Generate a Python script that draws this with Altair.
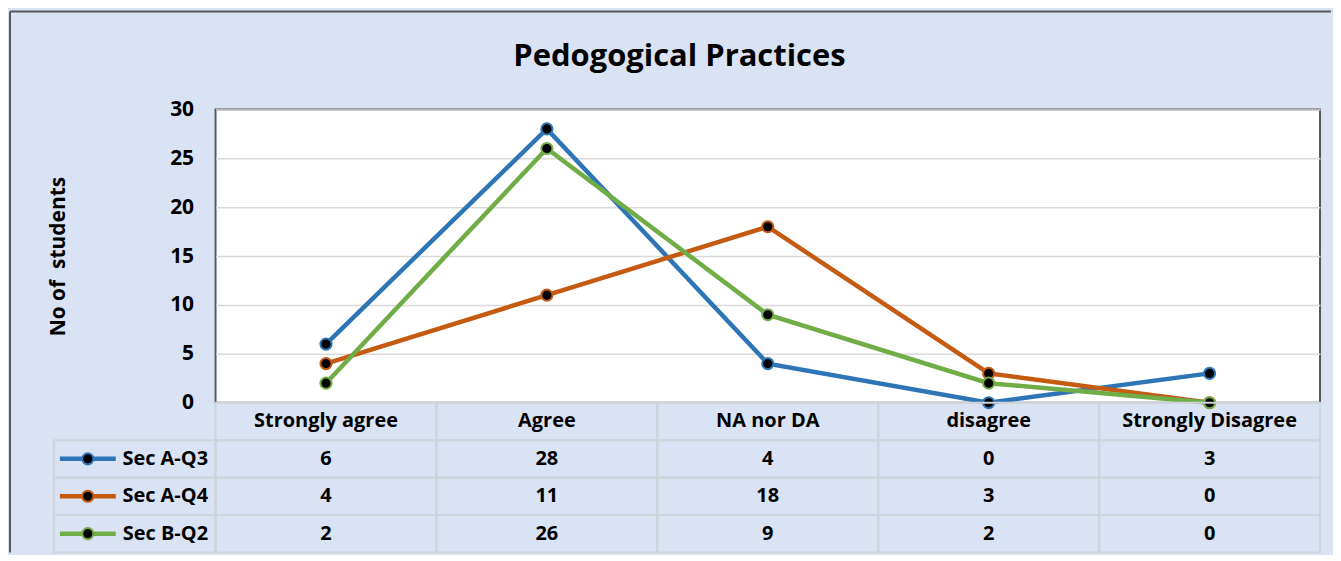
import altair as alt
import pandas as pd

categories = ["Strongly agree", "Agree", "NA nor DA", "disagree", "Strongly Disagree"]
series_names = ["Sec A-Q3", "Sec A-Q4", "Sec B-Q2"]
sec_a_q3 = [6, 28, 4, 0, 3]
sec_a_q4 = [4, 11, 18, 3, 0]
sec_b_q2 = [2, 26, 9, 2, 0]
colors = ["#2E75B6", "#C55A11", "#70AD47"]
y_ticks = [0, 5, 10, 15, 20, 25, 30]
title_text = "Pedogogical Practices"
y_title = "No of\u00a0 students"

FONT = "Open Sans"
BG = "#DAE3F3"
W, H = 1107, 294
TH = 150

rows = []
for name, vals in zip(series_names, [sec_a_q3, sec_a_q4, sec_b_q2]):
    for c, v in zip(categories, vals):
        rows.append({"category": c, "series": name, "value": v})
df = pd.DataFrame(rows)

color_scale = alt.Scale(domain=series_names, range=colors)
x_point = alt.Scale(domain=categories, type="point", padding=0.5)
y_lin = alt.Scale(domain=[0, 30], nice=False)

base = alt.Chart(df)

lines = base.mark_line(strokeWidth=4.5).encode(
    x=alt.X("category:N", scale=x_point, axis=None, sort=categories),
    y=alt.Y(
        "value:Q",
        scale=y_lin,
        axis=alt.Axis(
            values=y_ticks, grid=True, gridColor="#D9D9D9", gridWidth=1.5,
            domain=False, ticks=False, labelFont=FONT, labelFontSize=21,
            labelFontWeight="bold", labelColor="black", labelPadding=22,
            title=y_title, titleFont=FONT, titleFontSize=21, titleFontWeight="bold",
            titleColor="black", titleX=-157, titleY=147, titleAngle=-90,
            titleAlign="center", titleBaseline="middle",
        ),
    ),
    color=alt.Color("series:N", scale=color_scale, legend=None),
)

points = base.mark_point(
    shape="circle", filled=False, fill="black", fillOpacity=1, opacity=1,
    size=125, strokeWidth=2,
).encode(
    x=alt.X("category:N", scale=x_point, sort=categories),
    y=alt.Y("value:Q", scale=y_lin),
    stroke=alt.Stroke("series:N", scale=color_scale, legend=None),
)

one = pd.DataFrame({"t": [title_text]})
title_mark = alt.Chart(one).mark_text(
    font=FONT, fontSize=31, fontWeight="bold", color="black",
    align="center", baseline="alphabetic",
).encode(text="t:N", x=alt.value(465), y=alt.value(-43))

BORDER = "#595959"
left_border = alt.Chart(one).mark_rule(stroke=BORDER, strokeWidth=2).encode(
    x=alt.value(-206), y=alt.value(-98), y2=alt.value(H + TH)
)
top_border = alt.Chart(one).mark_rule(stroke=BORDER, strokeWidth=2).encode(
    x=alt.value(-206), x2=alt.value(1118), y=alt.value(-98)
)

top = alt.layer(left_border, top_border, lines, points, title_mark).properties(
    width=W, height=H,
    view=alt.ViewConfig(fill="white", stroke=BORDER, strokeWidth=2),
)

# ---- data table below ----
row_order = ["header"] + series_names
cell_rows = [{"category": c, "row": r} for c in categories for r in row_order]
cells_df = pd.DataFrame(cell_rows)

text_rows = [{"category": c, "row": "header", "txt": c} for c in categories]
for name, vals in zip(series_names, [sec_a_q3, sec_a_q4, sec_b_q2]):
    for c, v in zip(categories, vals):
        text_rows.append({"category": c, "row": name, "txt": str(v)})
text_df = pd.DataFrame(text_rows)

legend_df = pd.DataFrame({"row": series_names, "series": series_names})

x_band = alt.Scale(domain=categories, paddingInner=0, paddingOuter=0)
y_band = alt.Scale(domain=row_order, paddingInner=0, paddingOuter=0)
LINE = "#CFD3DA"

cells = alt.Chart(cells_df).mark_rect(
    fill="transparent", stroke=LINE, strokeWidth=2
).encode(
    x=alt.X("category:N", scale=x_band, axis=None, sort=categories),
    y=alt.Y(
        "row:N", scale=y_band, sort=row_order,
        axis=alt.Axis(
            title=None, domain=False, ticks=False, labelFont=FONT,
            labelFontSize=20, labelFontWeight="bold", labelColor="black",
            labelPadding=8,
            labelExpr="datum.value == 'header' ? '' : datum.value",
        ),
    ),
)

legend_cells = alt.Chart(legend_df).mark_rect(
    fill="transparent", stroke=LINE, strokeWidth=2
).encode(
    x=alt.value(-162), x2=alt.value(0),
    y=alt.Y("row:N", scale=y_band, sort=row_order),
)

legend_lines = alt.Chart(legend_df).mark_rule(strokeWidth=4.5).encode(
    x=alt.value(-156), x2=alt.value(-100),
    y=alt.Y("row:N", scale=y_band, sort=row_order, bandPosition=0.5),
    color=alt.Color("series:N", scale=color_scale, legend=None),
)

legend_pts = alt.Chart(legend_df).mark_point(
    shape="circle", filled=False, fill="black", fillOpacity=1, opacity=1,
    size=125, strokeWidth=2,
).encode(
    x=alt.value(-128),
    y=alt.Y("row:N", scale=y_band, sort=row_order, bandPosition=0.5),
    stroke=alt.Stroke("series:N", scale=color_scale, legend=None),
)

texts = alt.Chart(text_df).mark_text(
    font=FONT, fontSize=20, fontWeight="bold", color="black",
    align="center", baseline="middle",
).encode(
    x=alt.X("category:N", scale=x_band, sort=categories, bandPosition=0.5),
    y=alt.Y("row:N", scale=y_band, sort=row_order, bandPosition=0.5),
    text="txt:N",
)

table = alt.layer(cells, legend_cells, legend_lines, legend_pts, texts).properties(
    width=W, height=TH,
    view=alt.ViewConfig(fill="transparent", stroke="transparent"),
)

chart = alt.vconcat(top, table, spacing=0, bounds="flush").properties(
    background=BG,
    padding={"left": 0, "top": 1, "right": 0, "bottom": 0},
).resolve_scale(color="independent", stroke="independent")

chart.save("out.html", embed_options={"renderer": "svg", "actions": False})
